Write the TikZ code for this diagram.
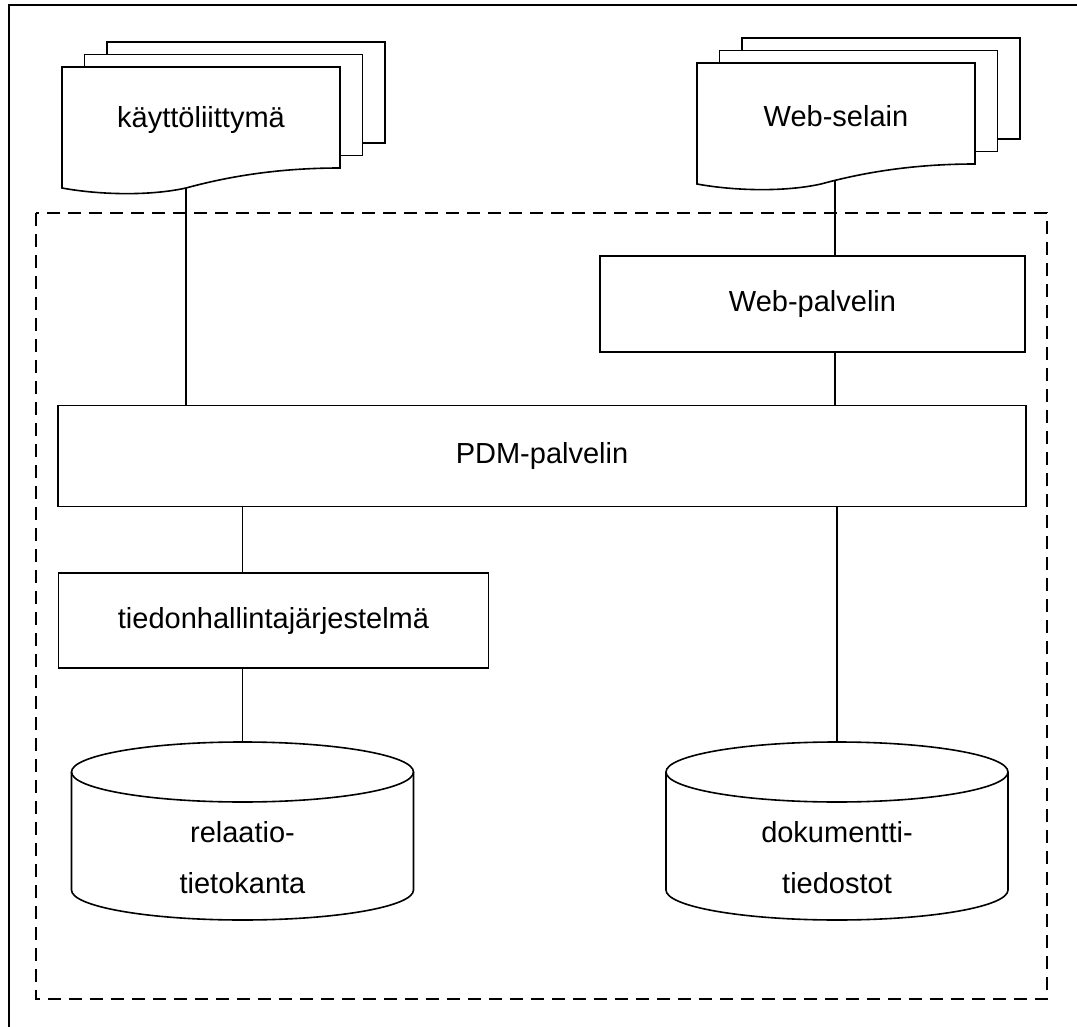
\documentclass[tikz,border=0pt]{standalone}
\usepackage{fontspec}
\setmainfont{Liberation Sans}
\usepackage{tikz}

% stack of three pages, front page with wavy bottom
\newcommand{\docstack}[4]{%
    \begin{scope}[shift={(#2,#3)}]
        \foreach \k in {2,1}
            \filldraw[fill=white] (22.5*\k,-12.5*\k) rectangle ++(278,101);
        \filldraw[fill=white] (0,0) -- (278,0) -- (278,101)
            .. controls (218,101) and (168,109) .. (124,121)
            .. controls (88,129) and (38,128) .. (0,121) -- cycle;
        \node (#1) at (139,53) {#4};
    \end{scope}%
}

% database cylinder
\newcommand{\dbcylinder}[4]{%
    \filldraw[fill=white] (#2-171,772) -- (#2-171,890)
        arc[start angle=180, end angle=0, x radius=171, y radius=30] -- (#2+171,772);
    \draw (#2,772) ellipse[x radius=171, y radius=30];
    \coordinate (#1-top) at (#2,742);
    \node[align=center] (#1) at (#2,858) {#3\\#4};
}

\begin{document}
\begin{tikzpicture}[x=1pt, y=-1pt, line width=1.6pt,
    every node/.style={font=\fontsize{29}{51}\selectfont},
    box/.style={draw, rectangle, inner sep=0pt},
    group/.style={dashed, dash pattern=on 13pt off 8pt}]

    \useasboundingbox (0,0) rectangle (1077,1027);

    % frame
    \draw (9,1027) -- (9,5) -- (1077,5);

    % server side
    \draw[group] (36,213) rectangle (1047,999);

    % clients
    \docstack{ui}{62}{67}{käyttöliittymä}
    \docstack{browser}{697}{63}{Web-selain}
    \coordinate (ui-out) at (186,188);
    \coordinate (browser-out) at (835,181);

    \node[box, minimum width=425pt, minimum height=96pt] (webserver) at (812.5,304) {Web-palvelin};
    \node[box, minimum width=968pt, minimum height=101pt] (pdm) at (542,456) {PDM-palvelin};
    \node[box, minimum width=430pt, minimum height=95pt] (dms) at (273.5,620.5) {tiedonhallintajärjestelmä};

    % storage
    \dbcylinder{reldb}{242.5}{relaatio-}{tietokanta}
    \dbcylinder{files}{837}{dokumentti-}{tiedostot}

    % connections
    \draw (ui-out) -- (ui-out |- pdm.north);
    \draw (browser-out) -- (browser-out |- webserver.north);
    \draw (webserver.south -| browser-out) -- (pdm.north -| browser-out);
    \draw (pdm.south -| reldb-top) -- (dms.north -| reldb-top);
    \draw (dms.south -| reldb-top) -- (reldb-top);
    \draw (pdm.south -| files-top) -- (files-top);

\end{tikzpicture}
\end{document}
